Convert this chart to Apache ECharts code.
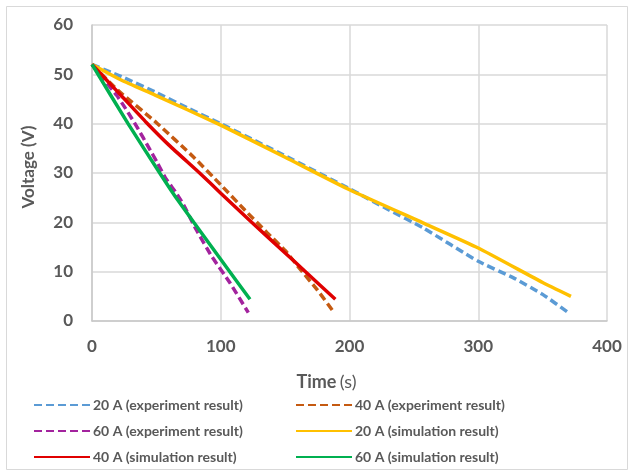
<!DOCTYPE html>
<html>
<head>
<meta charset="utf-8">
<script src="https://cdn.jsdelivr.net/npm/echarts@6/dist/echarts.min.js"></script>
<style>html,body{margin:0;padding:0;background:#fff;}#c{width:634px;height:476px;}</style>
</head>
<body>
<div id="c"></div>
<script>
// ---- data ----
var xTicks = [0, 100, 200, 300, 400];
var yTicks = [0, 10, 20, 30, 40, 50, 60];

var t20exp = [0, 15, 25, 50, 75, 100, 150, 200, 230, 257, 300, 327, 350, 370];
var v20exp = [52, 50.4, 49.3, 46.3, 43.1, 40.0, 33.5, 26.8, 22.6, 18.9, 12.1, 8.8, 5.4, 1.7];

var t40exp = [0, 20, 50, 79, 100, 119, 136, 150, 162, 175, 187.5];
var v40exp = [52, 46.8, 40.2, 33.2, 27.6, 22.4, 17.9, 14.3, 10.4, 6.3, 1.9];

var t60exp = [0, 19, 26, 35, 44, 50.5, 57, 65, 71, 81, 93, 107, 121.4];
var v60exp = [52, 45.8, 43.1, 39.3, 35.2, 32.2, 29.0, 26.1, 23.6, 18.5, 13.1, 7.8, 1.7];

var t20sim = [0, 23, 49, 100, 150, 200, 257, 300, 350, 372];
var v20sim = [52, 48.8, 45.8, 39.7, 33.2, 26.6, 19.9, 14.8, 7.8, 5.0];

var t40sim = [0, 10, 23, 42, 60, 84, 100, 124, 150, 165, 189];
var v40sim = [52, 49.2, 45.6, 40.3, 35.6, 29.9, 25.9, 20.0, 13.8, 10.2, 4.4];

var t60sim = [0, 28, 52.6, 64.5, 79, 107, 122.7];
var v60sim = [52, 40.0, 30.0, 25.3, 20.0, 10.0, 4.4];

var names = [
  '20 A (experiment result)', '40 A (experiment result)',
  '60 A (experiment result)', '20 A (simulation result)',
  '40 A (simulation result)', '60 A (simulation result)'
];

function pairs(t, v) { return t.map(function (x, i) { return [x, v[i]]; }); }

var FONT = 'Lato, "Open Sans", "Noto Sans", sans-serif';
var TXT = '#595959';

function mk(name, t, v, color, dashed) {
  return {
    name: name, type: 'line', data: pairs(t, v),
    symbol: 'none', showSymbol: false, smooth: 0.15,
    lineStyle: { color: color, width: 3.5, type: dashed ? [8, 4] : 'solid', cap: 'butt' },
    itemStyle: { color: color },
    emphasis: { disabled: true }, animation: false
  };
}

var legendCommon = {
  orient: 'vertical', top: 393,
  itemWidth: 56, itemHeight: 12, itemGap: 12,
  itemStyle: { opacity: 0, color: 'rgba(0,0,0,0)', borderWidth: 0 },
  textStyle: { color: TXT, fontFamily: FONT, fontSize: 14, fontWeight: 'bold', padding: [0, 0, 0, -2] }
};

var chart = echarts.init(document.getElementById('c'), null, { renderer: 'canvas' });
chart.setOption({
  backgroundColor: '#fff',
  animation: false,
  graphic: [{
    type: 'rect', shape: { x: 6.5, y: 6.5, width: 621, height: 463 },
    style: { fill: 'none', stroke: '#d9d9d9', lineWidth: 1 }, silent: true, z: -10
  }],
  grid: { left: 92, right: 27, top: 25, bottom: 155 },
  xAxis: {
    type: 'value', min: 0, max: 400, interval: 100,
    axisLine: { show: true, lineStyle: { color: '#c8c8c8', width: 1.5 } },
    axisTick: { show: false },
    splitLine: { show: true, lineStyle: { color: '#d9d9d9', width: 1.5 } },
    axisLabel: { color: TXT, fontFamily: FONT, fontSize: 17, fontWeight: 'bold', margin: 17,
      formatter: function (v) { return xTicks.indexOf(v) >= 0 ? String(v) : ''; } },
    name: '{b|Time} {n|(s)}', nameLocation: 'middle', nameGap: 52,
    nameTextStyle: { padding: [0, 46, 0, 0], rich: {
      b: { color: TXT, fontFamily: FONT, fontSize: 18, fontWeight: 'bold' },
      n: { color: TXT, fontFamily: FONT, fontSize: 18, fontWeight: 'normal' } } }
  },
  yAxis: {
    type: 'value', min: 0, max: 60, interval: 10,
    axisLine: { show: true, lineStyle: { color: '#c8c8c8', width: 1.5 } },
    axisTick: { show: false },
    splitLine: { show: true, lineStyle: { color: '#d9d9d9', width: 1.5 } },
    axisLabel: { color: TXT, fontFamily: FONT, fontSize: 17, fontWeight: 'bold', margin: 19,
      formatter: function (v) { return yTicks.indexOf(v) >= 0 ? String(v) : ''; } },
    name: 'Voltage (V)', nameLocation: 'middle', nameGap: 55,
    nameTextStyle: { color: TXT, fontFamily: FONT, fontSize: 17, fontWeight: 'bold', padding: [0, 0, 0, 12] }
  },
  legend: [
    Object.assign({ data: [names[0], names[2], names[4]], left: 28 }, legendCommon),
    Object.assign({ data: [names[1], names[3], names[5]], left: 290 }, legendCommon)
  ],
  series: [
    mk(names[0], t20exp, v20exp, '#5B9BD5', true),
    mk(names[1], t40exp, v40exp, '#C55A11', true),
    mk(names[2], t60exp, v60exp, '#A3239E', true),
    mk(names[3], t20sim, v20sim, '#FFC000', false),
    mk(names[4], t40sim, v40sim, '#E00000', false),
    mk(names[5], t60sim, v60sim, '#00B050', false)
  ]
});
</script>
</body>
</html>
